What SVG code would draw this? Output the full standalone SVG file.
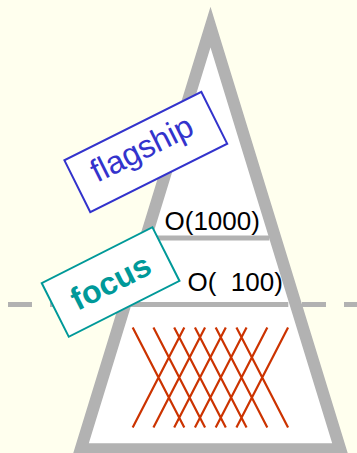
<svg xmlns="http://www.w3.org/2000/svg" width="357" height="453" viewBox="0 0 357 453">
  <style>
    .gray { stroke: #B2B2B2; fill: none; }
    .hatch { stroke: #CC3300; stroke-width: 2.2; fill: none; }
    .lbl { font-family: "Liberation Sans", Arial, sans-serif; }
  </style>
  <rect x="0" y="0" width="357" height="453" fill="#FFFFEE"/>
  <g id="connectors">
    <line class="gray" x1="8" y1="304.5" x2="357" y2="304.5" stroke-width="5" stroke-dasharray="24 18"/>
  </g>
  <g id="pyramid">
    <polygon points="80.7,449.3 210.5,27.1 340.3,449.3" fill="#FFFFFF" stroke="#B2B2B2" stroke-width="12" stroke-linejoin="miter"/>
    <line class="gray" x1="150" y1="238" x2="269.3" y2="238" stroke-width="5"/>
    <line class="gray" x1="128" y1="304.5" x2="288.3" y2="304.5" stroke-width="5"/>
  </g>
  <g id="hatch">
    <path class="hatch" d="M132.7,327.5 L184.3,427.5 M153.45,327.5 L205.05,427.5 M174.2,327.5 L225.8,427.5 M194.95,327.5 L246.55,427.5 M215.7,327.5 L267.3,427.5 M236.45,327.5 L288.05,427.5 M184.3,327.5 L132.7,427.5 M205.05,327.5 L153.45,427.5 M225.8,327.5 L174.2,427.5 M246.55,327.5 L194.95,427.5 M267.3,327.5 L215.7,427.5 M288.05,327.5 L236.45,427.5"/>
  </g>
  <g id="label-1000">
    <text class="lbl" x="164.5" y="229.5" font-size="26" fill="#000000">O(1000)</text>
  </g>
  <g id="label-100">
    <text class="lbl" x="187.5" y="291" font-size="26" fill="#000000" xml:space="preserve">O(  100)</text>
  </g>
  <g id="flagship" transform="translate(145.8,152) rotate(-26.5)">
    <rect x="-76.5" y="-29" width="153" height="58" fill="#FFFFFF" stroke="#3333CC" stroke-width="2"/>
    <text class="lbl" x="-2" y="6" font-size="32" fill="#3333CC" text-anchor="middle">flagship</text>
  </g>
  <g id="focus" transform="translate(110.6,282) rotate(-26.8)">
    <rect x="-62" y="-30" width="124" height="60" fill="#FFFFFF" stroke="#009999" stroke-width="2"/>
    <text class="lbl" x="0" y="11" font-size="32" font-weight="bold" fill="#009999" text-anchor="middle">focus</text>
  </g>
</svg>
